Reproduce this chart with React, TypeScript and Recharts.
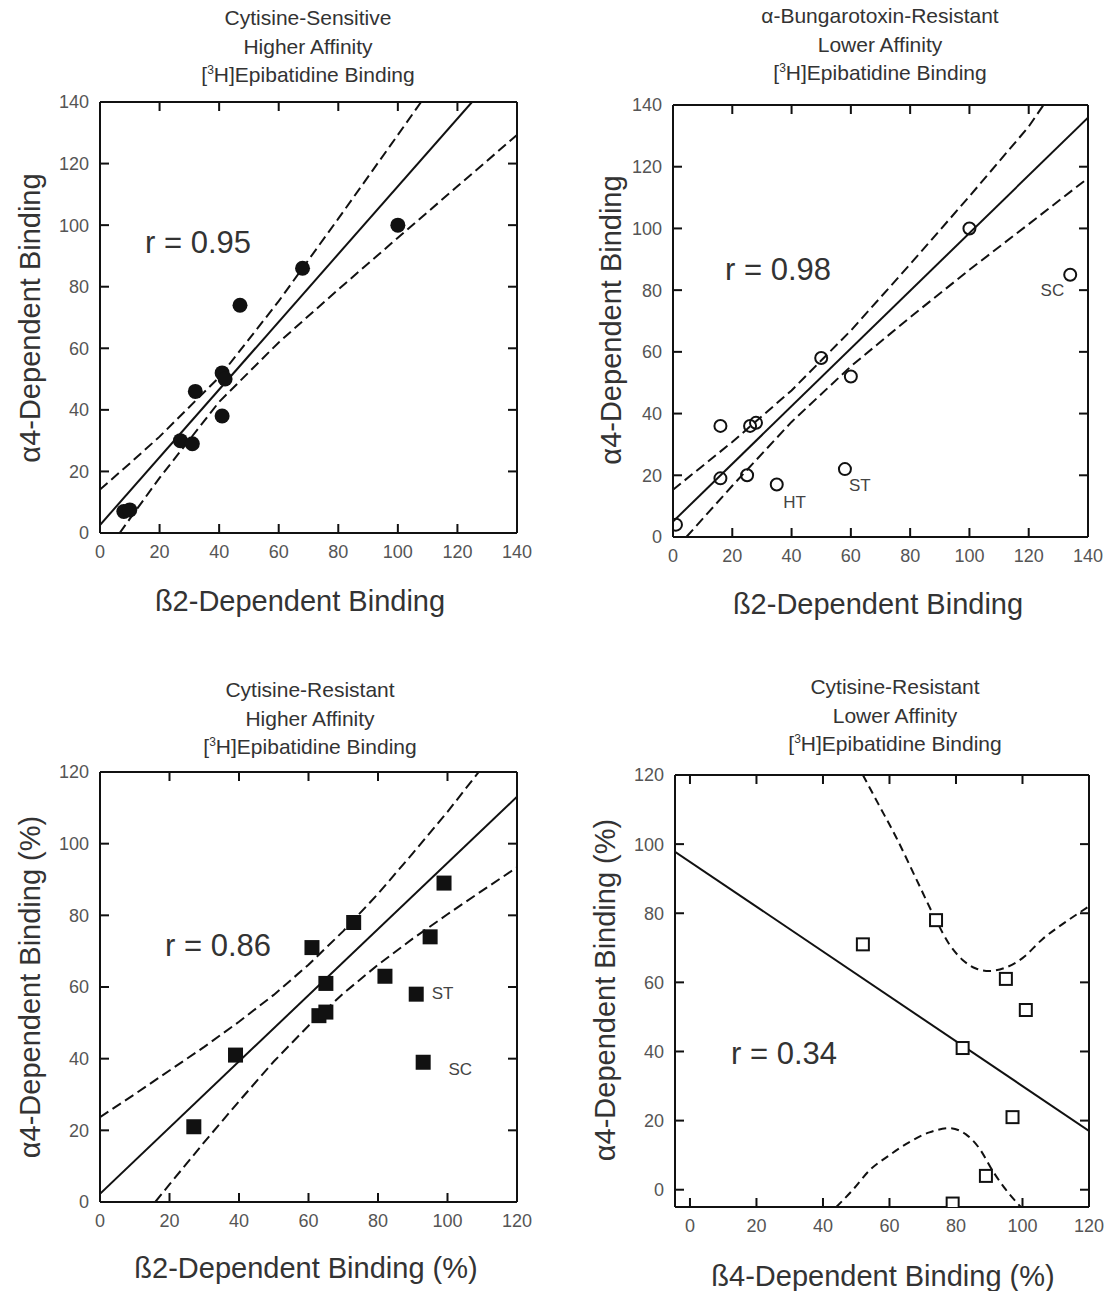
import { ComposedChart, Scatter, Line, XAxis, YAxis } from "recharts"

type Pt = { x: number; y: number }
type Tag = { x: number; y: number; text: string }

const FONT = "'Liberation Sans', Arial, Helvetica, sans-serif"
const INK = "#111"
const TICK = 9

const ticks140 = [0, 20, 40, 60, 80, 100, 120, 140]
const ticks120 = [0, 20, 40, 60, 80, 100, 120]

// ─── Cytisine-sensitive, higher affinity ─────────────────────────────────────

const csHighPoints: Pt[] = [
  { x: 8, y: 7 }, { x: 10, y: 7.5 }, { x: 27, y: 30 }, { x: 31, y: 29 },
  { x: 32, y: 46 }, { x: 41, y: 52 }, { x: 42, y: 50 }, { x: 41, y: 38 },
  { x: 47, y: 74 }, { x: 68, y: 86 }, { x: 100, y: 100 },
]
const csHighFit: Pt[] = [{ x: 0, y: 2.6 }, { x: 124.9, y: 140 }]
const csHighUpper: Pt[] = [
  { x: 0, y: 14.1 }, { x: 10, y: 22.6 }, { x: 20, y: 31.3 }, { x: 40, y: 50.6 },
  { x: 60, y: 75.3 }, { x: 80, y: 102.1 }, { x: 100, y: 129.3 }, { x: 107.8, y: 140 },
]
const csHighLower: Pt[] = [
  { x: 6.6, y: 0 }, { x: 10, y: 4.6 }, { x: 20, y: 17.9 }, { x: 40, y: 42.6 },
  { x: 60, y: 61.9 }, { x: 80, y: 79.1 }, { x: 100, y: 95.9 }, { x: 120, y: 112.6 },
  { x: 140, y: 129.3 },
]

// ─── α-Bungarotoxin-resistant, lower affinity ────────────────────────────────

const bgtPoints: Pt[] = [
  { x: 1, y: 4 }, { x: 16, y: 19 }, { x: 16, y: 36 }, { x: 25, y: 20 },
  { x: 26, y: 36 }, { x: 28, y: 37 }, { x: 35, y: 17 }, { x: 50, y: 58 },
  { x: 60, y: 52 }, { x: 58, y: 22 }, { x: 100, y: 100 }, { x: 134, y: 85 },
]
const bgtTags: Tag[] = [
  { x: 41, y: 11.3, text: "HT" }, { x: 63, y: 16.7, text: "ST" }, { x: 128, y: 80, text: "SC" },
]
const bgtFit: Pt[] = [{ x: 0, y: 5 }, { x: 140, y: 135.9 }]
const bgtUpper: Pt[] = [
  { x: 0, y: 15.3 }, { x: 20, y: 30.8 }, { x: 40, y: 47.5 }, { x: 60, y: 66.9 },
  { x: 80, y: 88.4 }, { x: 100, y: 110.4 }, { x: 120, y: 133 }, { x: 125, y: 140 },
]
const bgtLower: Pt[] = [
  { x: 4.5, y: 0 }, { x: 20, y: 16.6 }, { x: 40, y: 37.3 }, { x: 60, y: 55.3 },
  { x: 80, y: 71.2 }, { x: 100, y: 86.6 }, { x: 120, y: 101.4 }, { x: 140, y: 116.3 },
]

// ─── Cytisine-resistant, higher affinity ─────────────────────────────────────

const crHighPoints: Pt[] = [
  { x: 27, y: 21 }, { x: 39, y: 41 }, { x: 61, y: 71 }, { x: 73, y: 78 },
  { x: 65, y: 61 }, { x: 63, y: 52 }, { x: 65, y: 53 }, { x: 82, y: 63 },
  { x: 91, y: 58 }, { x: 93, y: 39 }, { x: 95, y: 74 }, { x: 99, y: 89 },
]
const crHighTags: Tag[] = [{ x: 98.6, y: 58.3, text: "ST" }, { x: 103.7, y: 37, text: "SC" }]
const crHighFit: Pt[] = [{ x: 0, y: 2.3 }, { x: 120, y: 113.1 }]
const crHighUpper: Pt[] = [
  { x: 0, y: 23.7 }, { x: 10, y: 30.1 }, { x: 20, y: 36.7 }, { x: 30, y: 43.3 },
  { x: 40, y: 50.3 }, { x: 50, y: 57.8 }, { x: 60, y: 66.2 }, { x: 70, y: 75.6 },
  { x: 80, y: 86 }, { x: 90, y: 97.3 }, { x: 100, y: 108.9 }, { x: 109, y: 120 },
]
const crHighLower: Pt[] = [
  { x: 15.9, y: 0 }, { x: 20, y: 4.9 }, { x: 30, y: 16.7 }, { x: 40, y: 28.1 },
  { x: 50, y: 39.2 }, { x: 60, y: 49.2 }, { x: 70, y: 58.2 }, { x: 80, y: 66.2 },
  { x: 90, y: 73.5 }, { x: 100, y: 80.3 }, { x: 110, y: 86.9 }, { x: 120, y: 93.4 },
]

// ─── Cytisine-resistant, lower affinity ──────────────────────────────────────

const crLowPoints: Pt[] = [
  { x: 52, y: 71 }, { x: 74, y: 78 }, { x: 95, y: 61 }, { x: 101, y: 52 },
  { x: 82, y: 41 }, { x: 97, y: 21 }, { x: 89, y: 4 }, { x: 79, y: -4 },
]
const crLowFit: Pt[] = [{ x: -4.5, y: 97.8 }, { x: 120, y: 17 }]
const crLowUpper: Pt[] = [
  { x: 52, y: 120 }, { x: 57, y: 111 }, { x: 62, y: 102 }, { x: 68, y: 90 },
  { x: 74, y: 78 }, { x: 78, y: 71 }, { x: 82, y: 66.5 }, { x: 86, y: 64 },
  { x: 90, y: 63.3 }, { x: 95, y: 64.3 }, { x: 100, y: 67 }, { x: 106, y: 72.5 },
  { x: 113, y: 77.5 }, { x: 120, y: 82 },
]
const crLowLower: Pt[] = [
  { x: 44, y: -5 }, { x: 49, y: 0 }, { x: 54, y: 5.6 }, { x: 60, y: 10 },
  { x: 66, y: 13.8 }, { x: 72, y: 16.6 }, { x: 78, y: 17.8 }, { x: 83, y: 16 },
  { x: 87, y: 12 }, { x: 91, y: 5.5 }, { x: 95, y: 0 }, { x: 99.5, y: -5 },
]

// ─── Markers & ticks ─────────────────────────────────────────────────────────

type Marker = "dot" | "ring" | "box" | "openBox"

function markerShape(kind: Marker) {
  return (props: any) => {
    const { cx, cy } = props
    if (cx == null || cy == null) return <g />
    if (kind === "dot") return <circle cx={cx} cy={cy} r={7.5} fill={INK} />
    if (kind === "ring") return <circle cx={cx} cy={cy} r={6} fill="none" stroke={INK} strokeWidth={2} />
    if (kind === "box") return <rect x={cx - 7.5} y={cy - 7.5} width={15} height={15} fill={INK} />
    return <rect x={cx - 6} y={cy - 6} width={12} height={12} fill="#fff" stroke={INK} strokeWidth={2} />
  }
}

function tagShape(props: any) {
  const { cx, cy, payload } = props
  return (
    <text x={cx} y={cy} textAnchor="middle" dominantBaseline="central"
      fontSize={17} fill="#444" fontFamily={FONT}>
      {payload.text}
    </text>
  )
}

// inward tick marks, drawn as points sitting on each edge of the frame
type Side = "bottom" | "top" | "left" | "right"
function tickMark(side: Side) {
  return (props: any) => {
    const { cx, cy } = props
    if (cx == null || cy == null) return <g />
    if (side === "bottom") return <rect x={cx - 1} y={cy - TICK} width={2} height={TICK} fill={INK} />
    if (side === "top") return <rect x={cx - 1} y={cy} width={2} height={TICK} fill={INK} />
    if (side === "left") return <rect x={cx} y={cy - 1} width={TICK} height={2} fill={INK} />
    return <rect x={cx - TICK} y={cy - 1} width={TICK} height={2} fill={INK} />
  }
}

const labelStyle = { fontSize: 18, fill: "#555", fontFamily: FONT }

// ─── Panel ───────────────────────────────────────────────────────────────────

type Box = { left: number; top: number; width: number; height: number }

type PanelProps = {
  box: Box
  xDomain: [number, number]
  yDomain: [number, number]
  xTicks: number[]
  yTicks: number[]
  points: Pt[]
  marker: Marker
  fit: Pt[]
  upper: Pt[]
  lower: Pt[]
  curve: "linear" | "monotone"
  tags?: Tag[]
  title: [string, string]
  titleAt: [number, number]
  xLabel: string
  xLabelAt: [number, number]
  yLabel: string
  yLabelAt: [number, number]
  r: string
  rAt: [number, number]
}

function Panel(p: PanelProps) {
  const { box } = p
  const axisLine = { stroke: INK, strokeWidth: 2 }
  const dash = p.curve === "monotone" ? "8 5" : "10 5"
  const [x0, x1] = p.xDomain
  const [y0, y1] = p.yDomain
  const bottomMarks = p.xTicks.map((x) => ({ x, y: y0 }))
  const topMarks = p.xTicks.map((x) => ({ x, y: y1 }))
  const leftMarks = p.yTicks.map((y) => ({ x: x0, y }))
  const rightMarks = p.yTicks.map((y) => ({ x: x1, y }))
  return (
    <>
      <div style={{
        position: "absolute", left: p.titleAt[0] - 250, top: p.titleAt[1] - 14, width: 500,
        textAlign: "center", fontSize: 21, lineHeight: "28.5px", color: "#333", fontFamily: FONT,
      }}>
        {p.title[0]}<br />{p.title[1]}<br />
        [<span style={{ fontSize: 12, position: "relative", top: -8 }}>3</span>H]Epibatidine Binding
      </div>

      <div style={{
        position: "absolute", left: p.xLabelAt[0] - 250, top: p.xLabelAt[1] - 18, width: 500,
        textAlign: "center", fontSize: 29, lineHeight: "36px", color: "#333", fontFamily: FONT,
      }}>
        {p.xLabel}
      </div>

      <div style={{
        position: "absolute", left: p.yLabelAt[0] - 250, top: p.yLabelAt[1] - 18, width: 500,
        textAlign: "center", fontSize: 29, lineHeight: "36px", color: "#333", fontFamily: FONT,
        transform: "rotate(-90deg)",
      }}>
        {p.yLabel}
      </div>

      <div style={{
        position: "absolute", left: p.rAt[0], top: p.rAt[1] - 18, whiteSpace: "pre",
        fontSize: 31, lineHeight: "36px", color: "#333", fontFamily: FONT,
      }}>
        {p.r}
      </div>

      <div style={{ position: "absolute", left: box.left - 80, top: box.top - 10 }}>
        <ComposedChart width={box.width + 110} height={box.height + 50}
          margin={{ top: 9, right: 29, bottom: 0, left: 0 }}>
          <XAxis type="number" dataKey="x" domain={p.xDomain} ticks={p.xTicks} allowDataOverflow
            interval={0} height={40} tickSize={0} tickMargin={12} tickLine={false}
            tick={labelStyle} axisLine={axisLine} />
          <XAxis xAxisId="top" orientation="top" type="number" dataKey="x" domain={p.xDomain}
            ticks={p.xTicks} allowDataOverflow interval={0} height={1} tickLine={false} tick={false}
            axisLine={axisLine} />
          <YAxis type="number" dataKey="y" domain={p.yDomain} ticks={p.yTicks} allowDataOverflow
            interval={0} width={80} tickSize={0} tickMargin={11} tickLine={false}
            tick={labelStyle} axisLine={axisLine} />
          <YAxis yAxisId="right" orientation="right" type="number" dataKey="y" domain={p.yDomain}
            ticks={p.yTicks} allowDataOverflow interval={0} width={1} tickLine={false} tick={false}
            axisLine={axisLine} />

          <Scatter data={bottomMarks} dataKey="y" shape={tickMark("bottom")} isAnimationActive={false} />
          <Scatter data={topMarks} dataKey="y" shape={tickMark("top")} isAnimationActive={false} />
          <Scatter data={leftMarks} dataKey="y" shape={tickMark("left")} isAnimationActive={false} />
          <Scatter data={rightMarks} dataKey="y" shape={tickMark("right")} isAnimationActive={false} />

          <Line data={p.upper} dataKey="y" type={p.curve} stroke={INK} strokeWidth={2}
            strokeDasharray={dash} dot={false} activeDot={false} isAnimationActive={false} />
          <Line data={p.lower} dataKey="y" type={p.curve} stroke={INK} strokeWidth={2}
            strokeDasharray={dash} dot={false} activeDot={false} isAnimationActive={false} />
          <Line data={p.fit} dataKey="y" type="linear" stroke={INK} strokeWidth={2}
            dot={false} activeDot={false} isAnimationActive={false} />
          <Scatter data={p.points} dataKey="y" shape={markerShape(p.marker)} isAnimationActive={false} />
          {p.tags && <Scatter data={p.tags} dataKey="y" shape={tagShape} isAnimationActive={false} />}
        </ComposedChart>
      </div>
    </>
  )
}

export default function App() {
  return (
    <div style={{ position: "absolute", left: 0, top: 0, width: 1116, height: 1291, background: "#fff" }}>
      <Panel
        box={{ left: 100, top: 102, width: 417, height: 431 }}
        xDomain={[0, 140]} yDomain={[0, 140]} xTicks={ticks140} yTicks={ticks140}
        points={csHighPoints} marker="dot" fit={csHighFit} upper={csHighUpper} lower={csHighLower}
        curve="linear"
        title={["Cytisine-Sensitive", "Higher Affinity"]} titleAt={[308, 18]}
        xLabel="ß2-Dependent Binding" xLabelAt={[300, 601]}
        yLabel="α4-Dependent Binding" yLabelAt={[30, 318]}
        r="r = 0.95" rAt={[145, 243]}
      />
      <Panel
        box={{ left: 673, top: 105, width: 415, height: 432 }}
        xDomain={[0, 140]} yDomain={[0, 140]} xTicks={ticks140} yTicks={ticks140}
        points={bgtPoints} marker="ring" fit={bgtFit} upper={bgtUpper} lower={bgtLower}
        curve="linear" tags={bgtTags}
        title={["α-Bungarotoxin-Resistant", "Lower Affinity"]} titleAt={[880, 16]}
        xLabel="ß2-Dependent Binding" xLabelAt={[878, 604]}
        yLabel="α4-Dependent Binding" yLabelAt={[611, 320]}
        r="r = 0.98" rAt={[725, 270]}
      />
      <Panel
        box={{ left: 100, top: 772, width: 417, height: 430 }}
        xDomain={[0, 120]} yDomain={[0, 120]} xTicks={ticks120} yTicks={ticks120}
        points={crHighPoints} marker="box" fit={crHighFit} upper={crHighUpper} lower={crHighLower}
        curve="linear" tags={crHighTags}
        title={["Cytisine-Resistant", "Higher Affinity"]} titleAt={[310, 690]}
        xLabel="ß2-Dependent Binding (%)" xLabelAt={[306, 1268]}
        yLabel="α4-Dependent Binding (%)" yLabelAt={[30, 987]}
        r="r = 0.86" rAt={[165, 946]}
      />
      <Panel
        box={{ left: 675, top: 775, width: 414, height: 432 }}
        xDomain={[-4.5, 120]} yDomain={[-5, 120]} xTicks={ticks120} yTicks={ticks120}
        points={crLowPoints} marker="openBox" fit={crLowFit} upper={crLowUpper} lower={crLowLower}
        curve="monotone"
        title={["Cytisine-Resistant", "Lower Affinity"]} titleAt={[895, 687]}
        xLabel="ß4-Dependent Binding (%)" xLabelAt={[883, 1276]}
        yLabel="α4-Dependent Binding (%)" yLabelAt={[605, 990]}
        r="r = 0.34" rAt={[731, 1054]}
      />
    </div>
  )
}
